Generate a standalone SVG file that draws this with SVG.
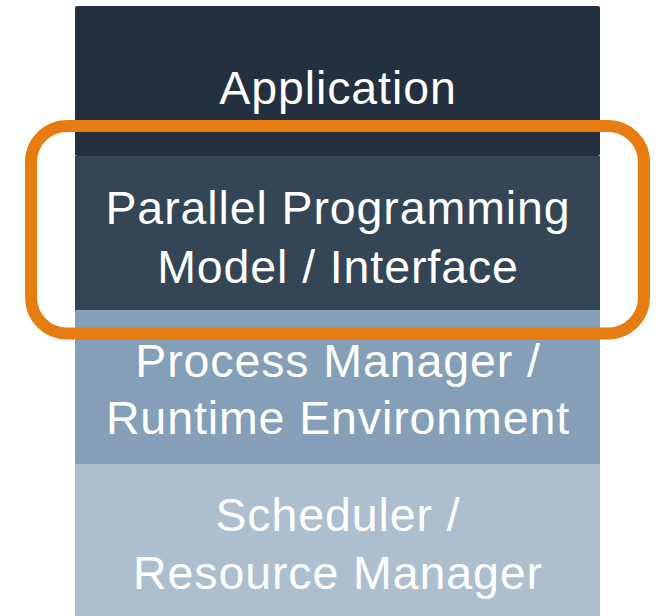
<svg xmlns="http://www.w3.org/2000/svg" width="656" height="616" viewBox="0 0 656 616">
<style>
.t{font-family:"Liberation Sans",Arial,sans-serif;font-size:46.5px;letter-spacing:0.9px;fill:#ffffff;text-anchor:middle}
</style>
<rect width="656" height="616" fill="#ffffff"/>
<g id="application">
<rect x="75" y="6" width="525" height="150" rx="2" fill="#243040"/>
<text class="t" x="338" y="103.5">Application</text>
</g>
<g id="programming-model">
<rect x="75" y="156" width="525" height="154" fill="#344555"/>
<text class="t" x="338" y="224">Parallel Programming</text>
<text class="t" x="338" y="283">Model / Interface</text>
</g>
<g id="process-manager">
<rect x="75" y="310" width="525" height="154" fill="#849FB7"/>
<text class="t" x="338" y="377">Process Manager /</text>
<text class="t" x="338" y="434">Runtime Environment</text>
</g>
<g id="scheduler">
<rect x="75" y="464" width="525" height="152" fill="#ADBECE"/>
<text class="t" x="338" y="531">Scheduler /</text>
<text class="t" x="338" y="589">Resource Manager</text>
</g>
<g id="connectors">
<rect x="31" y="126" width="613" height="207.5" rx="36" ry="36" fill="none" stroke="#E67C12" stroke-width="12"/>
</g>
</svg>
